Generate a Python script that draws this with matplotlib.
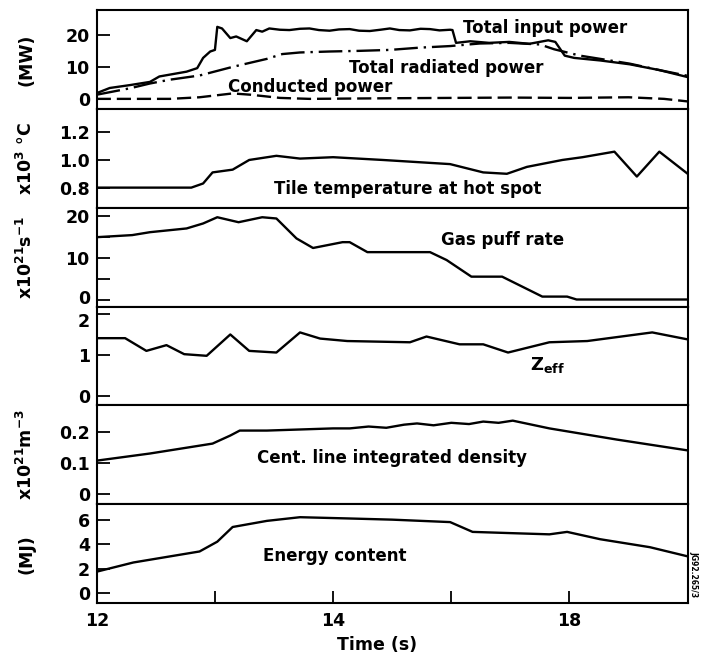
import matplotlib
matplotlib.use("Agg")
import matplotlib.pyplot as plt
from matplotlib.transforms import ScaledTranslation

plt.rcParams['font.family'] = ['DejaVu Sans']
plt.rcParams['font.weight'] = 'bold'
plt.rcParams['axes.labelweight'] = 'bold'
plt.rcParams['mathtext.default'] = 'bf'

# time axis (ticks as printed on the original figure)
time_ticks = [12, 13, 14, 15, 16, 17]
time_labels = ['12', '', '14', '', '18', '']

# total input power (MW)
t_input = [12.00, 12.11, 12.28, 12.45, 12.53, 12.76, 12.85, 12.90, 12.96, 13.00,
           13.02, 13.06, 13.13, 13.18, 13.27, 13.35, 13.40, 13.46, 13.55, 13.63,
           13.72, 13.80, 13.88, 13.97, 14.05, 14.14, 14.22, 14.31, 14.40, 14.48,
           14.56, 14.65, 14.74, 14.82, 14.90, 14.99, 15.01, 15.04, 15.16, 15.32,
           15.49, 15.66, 15.82, 15.88, 15.96, 16.04, 16.26, 16.51, 16.76, 17.00]
p_input = [1.8, 3.4, 4.3, 5.3, 7.0, 8.5, 9.6, 12.8, 14.8, 15.3,
           22.5, 22.0, 19.0, 19.5, 18.0, 21.5, 21.0, 22.0, 21.6, 21.5,
           21.9, 22.0, 21.5, 21.3, 21.7, 21.8, 21.3, 21.2, 21.6, 22.0,
           21.5, 21.4, 21.9, 21.8, 21.4, 21.6, 21.5, 17.5, 18.0, 17.5,
           17.8, 17.2, 18.3, 17.8, 13.5, 12.8, 12.0, 10.8, 9.0, 6.8]

# total radiated power (MW)
t_rad = [12.00, 12.28, 12.45, 12.62, 12.87, 13.15, 13.44, 13.57, 13.72, 13.97,
         14.22, 14.48, 14.73, 14.99, 15.24, 15.49, 15.75, 15.87, 15.98, 16.09,
         16.26, 16.51, 16.76, 17.00]
p_rad = [1.3, 3.3, 4.8, 6.0, 7.3, 10.0, 12.5, 14.0, 14.5, 14.8,
         15.0, 15.3, 16.0, 16.5, 17.3, 17.5, 17.0, 15.5, 14.5, 13.5,
         12.5, 11.0, 9.0, 7.2]

# conducted power (MW)
t_cond = [12.0, 12.62, 12.87, 13.15, 13.30, 13.55, 13.80, 14.5, 15.0, 15.5, 16.0, 16.5, 16.8, 17.0]
p_cond = [0.0, 0.0, 0.5, 1.7, 1.3, 0.3, 0.0, 0.2, 0.3, 0.4, 0.3, 0.5, 0.0, -0.8]

# tile temperature at hot spot (x10^3 C)
t_tile = [12.00, 12.80, 12.90, 12.98, 13.15, 13.29, 13.52, 13.72, 14.00, 14.42,
          14.99, 15.27, 15.47, 15.64, 15.94, 16.11, 16.38, 16.57, 16.76, 17.00]
tile = [0.80, 0.80, 0.83, 0.91, 0.93, 1.00, 1.03, 1.01, 1.02, 1.00,
        0.97, 0.91, 0.90, 0.95, 1.00, 1.02, 1.06, 0.88, 1.06, 0.90]

# gas puff rate (x10^21 s^-1)
t_gas = [12.00, 12.30, 12.45, 12.76, 12.90, 13.02, 13.20, 13.40, 13.52, 13.69,
         13.83, 14.08, 14.14, 14.29, 14.82, 14.96, 15.17, 15.43, 15.77, 15.98,
         16.06, 17.00]
gas = [15.0, 15.5, 16.2, 17.1, 18.3, 19.8, 18.6, 19.8, 19.5, 14.7,
       12.4, 13.8, 13.8, 11.4, 11.4, 9.5, 5.5, 5.5, 0.7, 0.7,
       0.0, 0.0]

# effective charge
t_zeff = [12.00, 12.24, 12.42, 12.59, 12.74, 12.93, 13.13, 13.29, 13.52, 13.72,
          13.89, 14.12, 14.65, 14.79, 15.07, 15.27, 15.48, 15.83, 16.15, 16.70, 17.00]
zeff = [1.40, 1.40, 1.09, 1.23, 1.01, 0.97, 1.49, 1.09, 1.05, 1.54,
        1.39, 1.33, 1.30, 1.44, 1.25, 1.25, 1.05, 1.30, 1.33, 1.54, 1.37]

# central line integrated density (x10^21 m^-3)
t_dens = [12.00, 12.45, 12.98, 13.13, 13.21, 13.44, 14.00, 14.14, 14.30, 14.45,
          14.60, 14.71, 14.85, 15.00, 15.15, 15.27, 15.40, 15.52, 15.83, 16.40, 17.00]
dens = [0.106, 0.129, 0.161, 0.187, 0.203, 0.203, 0.210, 0.210, 0.216, 0.212,
        0.222, 0.226, 0.220, 0.228, 0.224, 0.232, 0.228, 0.235, 0.210, 0.174, 0.139]

# plasma energy content (MJ)
t_energy = [12.00, 12.31, 12.87, 13.02, 13.15, 13.44, 13.72, 14.12, 14.50, 14.99,
            15.18, 15.50, 15.83, 15.98, 16.26, 16.68, 17.00]
energy = [1.75, 2.5, 3.4, 4.2, 5.4, 5.9, 6.2, 6.1, 6.0, 5.8,
          5.0, 4.9, 4.8, 5.0, 4.4, 3.75, 3.0]

LW = 1.7
fig, axes = plt.subplots(6, 1, figsize=(7.01, 6.6), dpi=100, sharex=True)
fig.subplots_adjust(left=0.138, right=0.981, top=0.985, bottom=0.086, hspace=0)

ax = axes[0]
ax.plot(t_input, p_input, color='k', lw=LW)
ax.plot(t_rad, p_rad, color='k', lw=LW, ls=(0, (10, 2.5, 1, 2.5)))
ax.plot(t_cond, p_cond, color='k', lw=LW, ls=(0, (6, 2.5)))
ax.set_ylim(-3.1, 27.8)
ax.set_yticks([0, 10, 20])
ax.set_ylabel('(MW)')
ax.text(15.79, 22.2, 'Total input power', ha='center', va='center', fontsize=12)
ax.text(14.96, 9.5, 'Total radiated power', ha='center', va='center', fontsize=12)
ax.text(13.81, 3.8, 'Conducted power', ha='center', va='center', fontsize=12)

ax = axes[1]
ax.plot(t_tile, tile, color='k', lw=LW)
ax.set_ylim(0.655, 1.37)
ax.set_yticks([0.8, 1.0, 1.2])
ax.set_yticklabels(['0.8', '1.0', '1.2'])
ax.set_ylabel(r'x10$^3$ °C')
ax.text(14.63, 0.79, 'Tile temperature at hot spot', ha='center', va='center', fontsize=12)

ax = axes[2]
ax.plot(t_gas, gas, color='k', lw=LW)
ax.set_ylim(-1.7, 22.1)
ax.set_yticks([0, 10, 20])
ax.set_yticks([5, 15], minor=True)
ax.set_ylabel(r'x10$^{21}$s$^{-1}$')
ax.text(15.43, 14.3, 'Gas puff rate', ha='center', va='center', fontsize=12)

ax = axes[3]
ax.plot(t_zeff, zeff, color='k', lw=LW)
ax.set_ylim(-0.24, 2.17)
ax.set_yticks([0, 1, 2])
ax.text(15.81, 0.75, r'$\mathbf{Z_{eff}}$', ha='center', va='center', fontsize=13)

ax = axes[4]
ax.plot(t_dens, dens, color='k', lw=LW)
ax.set_ylim(-0.035, 0.284)
ax.set_yticks([0, 0.1, 0.2])
ax.set_yticklabels(['0', '0.1', '0.2'])
ax.set_ylabel(r'x10$^{21}$m$^{-3}$')
ax.text(14.5, 0.113, 'Cent. line integrated density', ha='center', va='center', fontsize=12)

ax = axes[5]
ax.plot(t_energy, energy, color='k', lw=LW)
ax.set_ylim(-0.83, 7.25)
ax.set_yticks([0, 2, 4, 6])
ax.set_ylabel('(MJ)')
ax.text(14.01, 3.0, 'Energy content', ha='center', va='center', fontsize=12)
ax.set_xlim(12, 17)
ax.set_xticks(time_ticks)
ax.set_xticklabels(time_labels)
ax.set_xlabel('Time (s)', fontsize=12.5)
ax.xaxis.set_label_coords(0.474, -0.33)

for i, ax in enumerate(axes):
    for sp in ax.spines.values():
        sp.set_linewidth(1.5)
    ax.tick_params(axis='y', which='both', direction='in', length=9, width=1.3,
                   labelsize=12.5, pad=5)
    ax.tick_params(axis='x', which='both', direction='in', length=9, width=1.3,
                   labelsize=12.5, pad=6, bottom=(i == 5), top=False)
    ax.yaxis.label.set_size(12.5)
    ax.yaxis.set_label_coords(-0.103, 0.5)

# the "2" of the Zeff panel sits just below the "0" of the gas puff panel
top_lbl = axes[3].get_yticklabels()[-1]
top_lbl.set_transform(top_lbl.get_transform() + ScaledTranslation(0, -5 / 72, fig.dpi_scale_trans))
gas_zero = axes[2].get_yticklabels()[0]
gas_zero.set_transform(gas_zero.get_transform() + ScaledTranslation(0, 2 / 72, fig.dpi_scale_trans))

fig.text(0.99, 0.13, 'JG92.265/3', rotation=270, fontsize=5.5, ha='center', va='center')

fig.savefig('out.png', dpi=100)
